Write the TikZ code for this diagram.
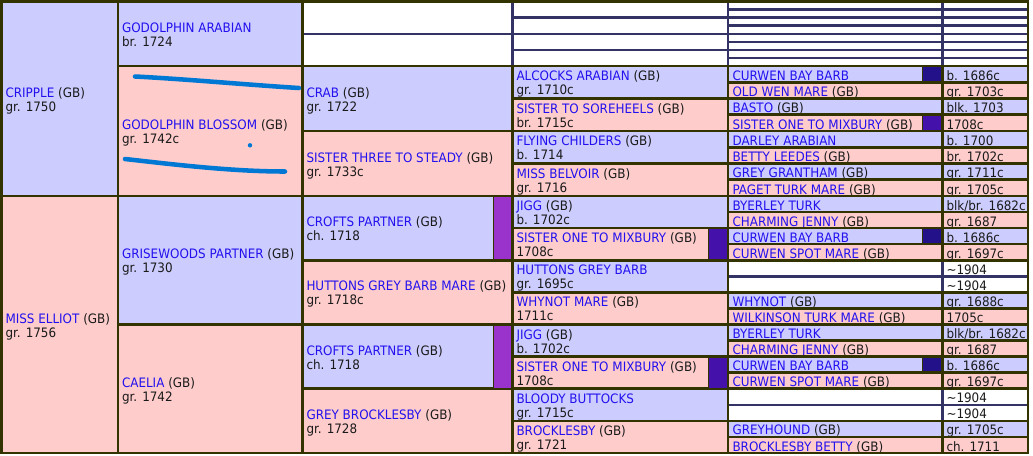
\documentclass[tikz,border=0pt]{standalone}
\usepackage{fontspec}
\setmainfont{DejaVu Sans}[FakeStretch=0.92]
\definecolor{hblue}{HTML}{CCCCFF}
\definecolor{hpink}{HTML}{FFCCCC}
\definecolor{bord}{HTML}{333300}
\definecolor{navy}{HTML}{333366}
\definecolor{lnk}{HTML}{2211EE}
\definecolor{ink}{HTML}{1A1A1A}
\definecolor{stripa}{HTML}{9933CC}
\definecolor{stripb}{HTML}{4411AA}
\definecolor{stripc}{HTML}{221188}
\definecolor{penblue}{HTML}{0078D4}
\tikzset{
  blu/.style={fill=hblue, draw=bord, line width=1.9pt},
  pnk/.style={fill=hpink, draw=bord, line width=1.9pt},
  wht/.style={fill=white, draw=navy, line width=1.8pt},
  txt/.style={font=\fontsize{9.75}{11}\selectfont, text=ink, inner sep=0pt, outer sep=0pt, anchor=base west},
  inkline/.style={draw=penblue, line width=3.4pt, line cap=round, line join=round},
}
\newcommand{\nm}[1]{\textcolor{lnk}{#1}}
% two-line horse cell: id, x1, y1, x2, y2, style, name line, year line
\newcommand{\hcell}[8]{%
  \path[#6] (#2,#3) rectangle (#4,#5);
  \node[txt] (#1) at ({#2+4},{(#3+#5)/2-1.5}) {#7};
  \node[txt] (#1-y) at ({#2+4},{(#3+#5)/2+12.5}) {#8};
}
% last-generation row: id, y1, y2, style, name, year
\newcommand{\arow}[6]{%
  \path[#4] (728,#2) rectangle (942.5,#3);
  \path[#4] (942.5,#2) rectangle (1028,#3);
  \node[txt] (#1) at (732.5,{#3-2}) {#5};
  \node[txt] (#1-y) at (946.5,{#3-2}) {#6};
}
% empty last-generation row with year: id, y1, y2, year
\newcommand{\wrow}[4]{%
  \path[wht] (728,#2) rectangle (942.5,#3);
  \path[wht] (942.5,#2) rectangle (1028,#3);
  \node[txt] (#1) at (946.5,{#3-2}) {#4};
}
% empty row, no text: y1, y2
\newcommand{\erow}[2]{%
  \path[wht] (728,#1) rectangle (942.5,#2);
  \path[wht] (942.5,#1) rectangle (1028,#2);
}
% colour strip: x1, y1, x2, y2, colour
\newcommand{\strip}[5]{%
  \fill[#5] (#1,{#2+1.25}) rectangle ({#3-1.25},{#4-1.25});
  \draw[bord, line width=0.75pt] (#1,#2) -- (#1,#4);
}
\begin{document}
\begin{tikzpicture}[x=0.75pt,y=-0.75pt]
\useasboundingbox (0,0) rectangle (1033,455);
\fill[white] (0,0) rectangle (1033,455);

% ---------- empty (white) cells ----------
\path[wht] (302.5,1.5) rectangle (512.5,33.75);
\path[wht] (302.5,33.75) rectangle (512.5,66);
\path[wht] (512.5,1.5) rectangle (728,17.625);
\path[wht] (512.5,17.625) rectangle (728,33.75);
\path[wht] (512.5,33.75) rectangle (728,49.875);
\path[wht] (512.5,49.875) rectangle (728,66);
\erow{1.5}{9.5625}
\erow{9.5625}{17.625}
\erow{17.625}{25.6875}
\erow{25.6875}{33.75}
\erow{33.75}{41.8125}
\erow{41.8125}{49.875}
\erow{49.875}{57.9375}
\erow{57.9375}{66}
\wrow{e1}{260.25}{276.3125}{\textasciitilde1904}
\wrow{e2}{276.3125}{292.375}{\textasciitilde1904}
\wrow{e3}{388.75}{404.8125}{\textasciitilde1904}
\wrow{e4}{404.8125}{420.875}{\textasciitilde1904}

% ---------- generation 1 ----------
\hcell{cripple}{1.5}{1.5}{118}{196}{blu}{\nm{CRIPPLE} (GB)}{gr. 1750}
\hcell{misselliot}{1.5}{196}{118}{453}{pnk}{\nm{MISS ELLIOT} (GB)}{gr. 1756}

% ---------- generation 2 ----------
\hcell{godarab}{118}{1.5}{302.5}{66}{blu}{\nm{GODOLPHIN ARABIAN}}{br. 1724}
\hcell{godblos}{118}{66}{302.5}{196}{pnk}{\nm{GODOLPHIN BLOSSOM} (GB)}{gr. 1742c}
\hcell{grisewoods}{118}{196}{302.5}{324.5}{blu}{\nm{GRISEWOODS PARTNER} (GB)}{gr. 1730}
\hcell{caelia}{118}{324.5}{302.5}{453}{pnk}{\nm{CAELIA} (GB)}{gr. 1742}

% ---------- generation 3 ----------
\hcell{crab}{302.5}{66}{512.5}{131}{blu}{\nm{CRAB} (GB)}{gr. 1722}
\hcell{sis3steady}{302.5}{131}{512.5}{196}{pnk}{\nm{SISTER THREE TO STEADY} (GB)}{gr. 1733c}
\hcell{crofts1}{302.5}{196}{512.5}{260.25}{blu}{\nm{CROFTS PARTNER} (GB)}{ch. 1718}
\hcell{huttonsmare}{302.5}{260.25}{512.5}{324.5}{pnk}{\nm{HUTTONS GREY BARB MARE} (GB)}{gr. 1718c}
\hcell{crofts2}{302.5}{324.5}{512.5}{388.75}{blu}{\nm{CROFTS PARTNER} (GB)}{ch. 1718}
\hcell{greybrock}{302.5}{388.75}{512.5}{453}{pnk}{\nm{GREY BROCKLESBY} (GB)}{gr. 1728}

% ---------- generation 4 ----------
\hcell{alcocks}{512.5}{66}{728}{98.5}{blu}{\nm{ALCOCKS ARABIAN} (GB)}{gr. 1710c}
\hcell{sissore}{512.5}{98.5}{728}{131}{pnk}{\nm{SISTER TO SOREHEELS} (GB)}{br. 1715c}
\hcell{flying}{512.5}{131}{728}{163.5}{blu}{\nm{FLYING CHILDERS} (GB)}{b. 1714}
\hcell{belvoir}{512.5}{163.5}{728}{196}{pnk}{\nm{MISS BELVOIR} (GB)}{gr. 1716}
\hcell{jigg1}{512.5}{196}{728}{228.125}{blu}{\nm{JIGG} (GB)}{b. 1702c}
\hcell{sisonemix1}{512.5}{228.125}{728}{260.25}{pnk}{\nm{SISTER ONE TO MIXBURY} (GB)}{1708c}
\hcell{huttonsbarb}{512.5}{260.25}{728}{292.375}{blu}{\nm{HUTTONS GREY BARB}}{gr. 1695c}
\hcell{whynotmare}{512.5}{292.375}{728}{324.5}{pnk}{\nm{WHYNOT MARE} (GB)}{1711c}
\hcell{jigg2}{512.5}{324.5}{728}{356.625}{blu}{\nm{JIGG} (GB)}{b. 1702c}
\hcell{sisonemix2}{512.5}{356.625}{728}{388.75}{pnk}{\nm{SISTER ONE TO MIXBURY} (GB)}{1708c}
\hcell{bloody}{512.5}{388.75}{728}{420.875}{blu}{\nm{BLOODY BUTTOCKS}}{gr. 1715c}
\hcell{brocklesby}{512.5}{420.875}{728}{453}{pnk}{\nm{BROCKLESBY} (GB)}{gr. 1721}

% ---------- generation 5 ----------
\arow{curwen1}{66}{82.25}{blu}{\nm{CURWEN BAY BARB}}{b. 1686c}
\arow{oldwen}{82.25}{98.5}{pnk}{\nm{OLD WEN MARE} (GB)}{gr. 1703c}
\arow{basto}{98.5}{114.75}{blu}{\nm{BASTO} (GB)}{blk. 1703}
\arow{sisonemix0}{114.75}{131}{pnk}{\nm{SISTER ONE TO MIXBURY} (GB)}{1708c}
\arow{darley}{131}{147.25}{blu}{\nm{DARLEY ARABIAN}}{b. 1700}
\arow{betty}{147.25}{163.5}{pnk}{\nm{BETTY LEEDES} (GB)}{br. 1702c}
\arow{greygrantham}{163.5}{179.75}{blu}{\nm{GREY GRANTHAM} (GB)}{gr. 1711c}
\arow{paget}{179.75}{196}{pnk}{\nm{PAGET TURK MARE} (GB)}{gr. 1705c}
\arow{byerley1}{196}{212.0625}{blu}{\nm{BYERLEY TURK}}{blk/br. 1682c}
\arow{charming1}{212.0625}{228.125}{pnk}{\nm{CHARMING JENNY} (GB)}{gr. 1687}
\arow{curwen2}{228.125}{244.1875}{blu}{\nm{CURWEN BAY BARB}}{b. 1686c}
\arow{spot1}{244.1875}{260.25}{pnk}{\nm{CURWEN SPOT MARE} (GB)}{gr. 1697c}
\arow{whynot}{292.375}{308.4375}{blu}{\nm{WHYNOT} (GB)}{gr. 1688c}
\arow{wilkinson}{308.4375}{324.5}{pnk}{\nm{WILKINSON TURK MARE} (GB)}{1705c}
\arow{byerley2}{324.5}{340.5625}{blu}{\nm{BYERLEY TURK}}{blk/br. 1682c}
\arow{charming2}{340.5625}{356.625}{pnk}{\nm{CHARMING JENNY} (GB)}{gr. 1687}
\arow{curwen3}{356.625}{372.6875}{blu}{\nm{CURWEN BAY BARB}}{b. 1686c}
\arow{spot2}{372.6875}{388.75}{pnk}{\nm{CURWEN SPOT MARE} (GB)}{gr. 1697c}
\arow{greyhound}{420.875}{436.9375}{blu}{\nm{GREYHOUND} (GB)}{gr. 1705c}
\arow{brockbetty}{436.9375}{453}{pnk}{\nm{BROCKLESBY BETTY} (GB)}{ch. 1711}

% ---------- inbreeding colour strips ----------
\strip{493.5}{196}{512.5}{260.25}{stripa}
\strip{493.5}{324.5}{512.5}{388.75}{stripa}
\strip{708}{228.125}{728}{260.25}{stripb}
\strip{708}{356.625}{728}{388.75}{stripb}
\strip{922.5}{66}{942.5}{82.25}{stripc}
\strip{922.5}{114.75}{942.5}{131}{stripb}
\strip{922.5}{228.125}{942.5}{244.1875}{stripc}
\strip{922.5}{356.625}{942.5}{372.6875}{stripc}

% ---------- outer frame ----------
\draw[bord, line width=1.9pt] (1.5,1.5) rectangle (1028,453);

% ---------- hand-drawn pen marks ----------
\draw[inkline] (135,76.5) .. controls (185,79) and (250,85) .. (299,88);
\draw[inkline] (125,159) .. controls (170,164) and (230,171.5) .. (285,171.5);
\fill[penblue] (250,145.3) circle (2.2);
\end{tikzpicture}
\end{document}
